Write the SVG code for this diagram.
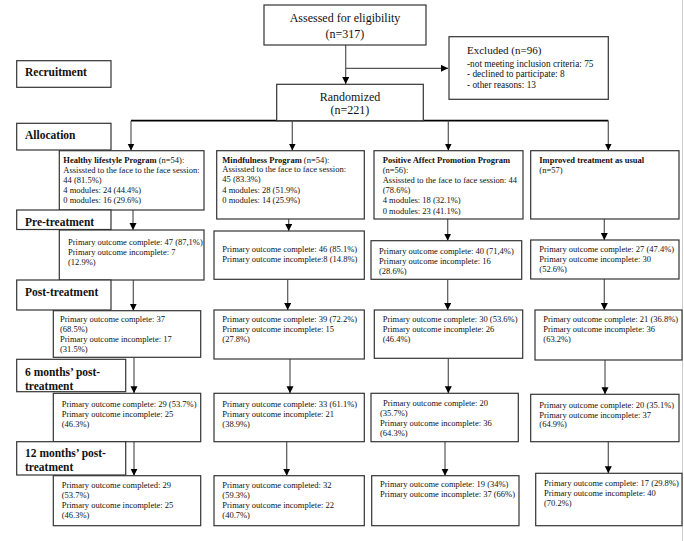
<svg xmlns="http://www.w3.org/2000/svg" width="684" height="541" viewBox="0 0 684 541">
<style>
.bx{fill:#fff;stroke:#333;stroke-width:1.2}
.lb{fill:#fff;stroke:#333;stroke-width:1.2}
.t{font-family:"Liberation Serif","Times New Roman",serif;font-size:8.5px;fill:#111}
.b{font-weight:bold}
.lt{font-family:"Liberation Serif","Times New Roman",serif;font-size:11.5px;font-weight:bold;fill:#111}
.big{font-family:"Liberation Serif","Times New Roman",serif;font-size:12px;fill:#111}
.ex{font-family:"Liberation Serif","Times New Roman",serif;font-size:9.3px;fill:#111}
.c{fill:none;stroke:#555;stroke-width:1.2}
</style>
<defs>
<marker id="ah" markerUnits="userSpaceOnUse" markerWidth="8" markerHeight="8" refX="7" refY="3.5" orient="auto">
<path d="M0,0 L7,3.5 L0,7 z" fill="#000"/>
</marker>
</defs>
<rect width="684" height="541" fill="#fff"/>
<line x1="682.5" y1="0" x2="682.5" y2="541" stroke="#ccc" stroke-width="1"/>

<g id="connectors">
<line class="c" x1="345.7" y1="45" x2="345.7" y2="84"  marker-end="url(#ah)"/>
<line class="c" x1="345.7" y1="68.3" x2="448" y2="68.3" marker-end="url(#ah)"/>
<line x1="131" y1="120.7" x2="608.3" y2="120.7" stroke="#000" stroke-width="1.8"/>
<line class="c" x1="131" y1="120.7" x2="131" y2="150.5" marker-end="url(#ah)"/>
<line class="c" x1="292.3" y1="120.7" x2="292.3" y2="150.5" marker-end="url(#ah)"/>
<line class="c" x1="448.3" y1="120.7" x2="448.3" y2="150.5" marker-end="url(#ah)"/>
<line class="c" x1="608.3" y1="120.7" x2="608.3" y2="150.5" marker-end="url(#ah)"/>
<line class="c" x1="133" y1="210" x2="133" y2="230" marker-end="url(#ah)"/>
<line class="c" x1="288.7" y1="219" x2="288.7" y2="231" marker-end="url(#ah)"/>
<line class="c" x1="447.7" y1="219" x2="447.7" y2="240.7" marker-end="url(#ah)"/>
<line class="c" x1="604.3" y1="219" x2="604.3" y2="240" marker-end="url(#ah)"/>
<line class="c" x1="133.3" y1="280" x2="133.3" y2="310.7" marker-end="url(#ah)"/>
<line class="c" x1="287.7" y1="279.3" x2="287.7" y2="310" marker-end="url(#ah)"/>
<line class="c" x1="447.7" y1="279.3" x2="447.7" y2="310" marker-end="url(#ah)"/>
<line class="c" x1="604.3" y1="279" x2="604.3" y2="310" marker-end="url(#ah)"/>
<line class="c" x1="134" y1="357.3" x2="134" y2="393.3" marker-end="url(#ah)"/>
<line class="c" x1="290" y1="359" x2="290" y2="393.3" marker-end="url(#ah)"/>
<line class="c" x1="448.3" y1="358.3" x2="448.3" y2="393.3" marker-end="url(#ah)"/>
<line class="c" x1="605" y1="360" x2="605" y2="394.3" marker-end="url(#ah)"/>
<line class="c" x1="134" y1="441.7" x2="134" y2="475.7" marker-end="url(#ah)"/>
<line class="c" x1="286.7" y1="441.7" x2="286.7" y2="475.7" marker-end="url(#ah)"/>
<line class="c" x1="445" y1="441.7" x2="445" y2="475.7" marker-end="url(#ah)"/>
<line class="c" x1="608.3" y1="441.7" x2="608.3" y2="473.3" marker-end="url(#ah)"/>
</g>

<g id="assessed">
<rect class="bx" x="264" y="5" width="162" height="40"/>
<text class="big" x="345" y="22" text-anchor="middle">Assessed for eligibility</text>
<text class="big" x="345" y="37.5" text-anchor="middle">(n=317)</text>
</g>
<g id="excluded">
<rect class="bx" x="449" y="36.7" width="159.3" height="62.6"/>
<text x="467" y="54" style="font-family:'Liberation Serif',serif;font-size:11px;fill:#111">Excluded (n=96)</text>
<text class="ex" x="467" y="66.5">-not meeting inclusion criteria: 75</text>
<text class="ex" x="467" y="77.3">- declined to participate: 8</text>
<text class="ex" x="467" y="88.2">- other reasons: 13</text>
</g>
<g id="randomized">
<rect class="bx" x="276.7" y="84.3" width="146.6" height="36.4"/>
<text class="big" x="350" y="100.8" text-anchor="middle">Randomized</text>
<text class="big" x="350" y="114.3" text-anchor="middle">(n=221)</text>
</g>

<g id="lbl-recruitment"><rect class="lb" x="16.7" y="60.7" width="94.3" height="26.6"/><text class="lt" x="25" y="76">Recruitment</text></g>
<g id="lbl-allocation"><rect class="lb" x="16.7" y="123.3" width="94.3" height="26.7"/><text class="lt" x="25" y="139">Allocation</text></g>

<g id="healthy-alloc">
<rect class="bx" x="59.3" y="150.7" width="144.7" height="59.3"/>
<text class="t" x="63.3" y="162.5"><tspan class="b">Healthy lifestyle Program</tspan> (n=54):</text>
<text class="t" x="63.3" y="172.7">Assissted to the face to the face session:</text>
<text class="t" x="63.3" y="182.9">44 (81.5%)</text>
<text class="t" x="63.3" y="193.1">4 modules: 24 (44.4%)</text>
<text class="t" x="63.3" y="203.3">0 modules: 16 (29.6%)</text>
</g>
<g id="mind-alloc">
<rect class="bx" x="216.7" y="150.7" width="147.6" height="68.3"/>
<text class="t" x="222.3" y="162.5"><tspan class="b">Mindfulness Program</tspan> (n=54):</text>
<text class="t" x="222.3" y="172.3">Assissted to the  face to face session:</text>
<text class="t" x="222.3" y="181.6">45 (83.3%)</text>
<text class="t" x="222.3" y="193">4 modules: 28 (51.9%)</text>
<text class="t" x="222.3" y="203.2">0 modules: 14 (25.9%)</text>
</g>
<g id="pos-alloc">
<rect class="bx" x="374" y="150.7" width="149" height="68.3"/>
<text class="t b" x="382.7" y="162.5">Positive Affect Promotion Program</text>
<text class="t" x="382.7" y="172.7">(n=56):</text>
<text class="t" x="382.7" y="182.9">Assissted to the face to face session: 44</text>
<text class="t" x="382.7" y="193.1">(78.6%)</text>
<text class="t" x="382.7" y="203.3">4 modules: 18 (32.1%)</text>
<text class="t" x="382.7" y="213.5">0 modules: 23 (41.1%)</text>
</g>
<g id="itau-alloc">
<rect class="bx" x="530.7" y="150.7" width="148.3" height="68.3"/>
<text class="t b" x="539.3" y="162.5">Improved treatment as usual</text>
<text class="t" x="539.3" y="172.7">(n=57)</text>
</g>

<g id="lbl-pre"><rect class="lb" x="16.7" y="210" width="94.3" height="19.5"/><text class="lt" x="25" y="225.5">Pre-treatment</text></g>

<g id="healthy-pre">
<rect class="bx" x="59.3" y="230" width="144.7" height="50"/>
<text class="t" x="68" y="244.7">Primary outcome complete: 47 (87,1%)</text>
<text class="t" x="68" y="254.7">Primary outcome incomplete: 7</text>
<text class="t" x="68" y="264.5">(12.9%)</text>
</g>
<g id="mind-pre">
<rect class="bx" x="214" y="231" width="150.3" height="48.3"/>
<text class="t" x="222.3" y="251.5">Primary outcome complete: 46 (85.1%)</text>
<text class="t" x="222.3" y="261.5">Primary outcome incomplete:8 (14.8%)</text>
</g>
<g id="pos-pre">
<rect class="bx" x="371" y="240.7" width="150.7" height="38.6"/>
<text class="t" x="379" y="254">Primary outcome complete: 40 (71,4%)</text>
<text class="t" x="379" y="264">Primary outcome incomplete: 16</text>
<text class="t" x="379" y="274">(28.6%)</text>
</g>
<g id="itau-pre">
<rect class="bx" x="530.7" y="240" width="148.3" height="39"/>
<text class="t" x="539.3" y="252">Primary outcome complete: 27 (47.4%)</text>
<text class="t" x="539.3" y="262">Primary outcome incomplete: 30</text>
<text class="t" x="539.3" y="272">(52.6%)</text>
</g>

<g id="lbl-post"><rect class="lb" x="16.7" y="280" width="94.3" height="30"/><text class="lt" x="25" y="295.7">Post-treatment</text></g>

<g id="healthy-post">
<rect class="bx" x="53.3" y="310.7" width="147.4" height="46.6"/>
<text class="t" x="60" y="322.3">Primary outcome complete: 37</text>
<text class="t" x="60" y="332.2">(68.5%)</text>
<text class="t" x="60" y="342.3">Primary outcome incomplete: 17</text>
<text class="t" x="60" y="352">(31.5%)</text>
</g>
<g id="mind-post">
<rect class="bx" x="214" y="310" width="150.3" height="49"/>
<text class="t" x="222.3" y="322.3">Primary outcome complete: 39 (72.2%)</text>
<text class="t" x="222.3" y="332.2">Primary outcome incomplete: 15</text>
<text class="t" x="222.3" y="342.2">(27.8%)</text>
</g>
<g id="pos-post">
<rect class="bx" x="374.3" y="310" width="148.4" height="48.3"/>
<text class="t" x="382.7" y="322.3">Primary outcome complete: 30 (53.6%)</text>
<text class="t" x="382.7" y="332.3">Primary outcome incomplete: 26</text>
<text class="t" x="382.7" y="342.3">(46.4%)</text>
</g>
<g id="itau-post">
<rect class="bx" x="535" y="310" width="147" height="50"/>
<text class="t" x="543.3" y="322.3">Primary outcome complete: 21 (36.8%)</text>
<text class="t" x="543.3" y="332.3">Primary outcome incomplete: 36</text>
<text class="t" x="543.3" y="342.3">(63.2%)</text>
</g>

<g id="lbl-6m"><rect class="lb" x="16.7" y="359.3" width="109" height="32.4"/><text class="lt" x="25" y="375.5">6 months’ post-</text><text class="lt" x="25" y="390">treatment</text></g>

<g id="healthy-6m">
<rect class="bx" x="53.3" y="393.3" width="147.4" height="48.4"/>
<text class="t" x="61.7" y="407">Primary outcome complete: 29 (53.7%)</text>
<text class="t" x="61.7" y="417">Primary outcome incomplete: 25</text>
<text class="t" x="61.7" y="427">(46.3%)</text>
</g>
<g id="mind-6m">
<rect class="bx" x="214" y="393.3" width="150.3" height="48.4"/>
<text class="t" x="222.3" y="406.5">Primary outcome complete: 33 (61.1%)</text>
<text class="t" x="222.3" y="416.5">Primary outcome incomplete: 21</text>
<text class="t" x="222.3" y="426.5">(38.9%)</text>
</g>
<g id="pos-6m">
<rect class="bx" x="371" y="393.3" width="147.3" height="48.4"/>
<text class="t" x="383" y="405.8">Primary outcome complete: 20</text>
<text class="t" x="380" y="416">(35.7%)</text>
<text class="t" x="380" y="426.3">Primary outcome incomplete: 36</text>
<text class="t" x="380" y="436.3">(64.3%)</text>
</g>
<g id="itau-6m">
<rect class="bx" x="530.7" y="394.3" width="148.3" height="47.4"/>
<text class="t" x="539.3" y="408">Primary outcome complete: 20 (35.1%)</text>
<text class="t" x="539.3" y="417.5">Primary outcome incomplete: 37</text>
<text class="t" x="539.3" y="427.3">(64.9%)</text>
</g>

<g id="lbl-12m"><rect class="lb" x="16.7" y="441.7" width="109" height="33.3"/><text class="lt" x="25" y="457.3">12 months’ post-</text><text class="lt" x="25" y="470.7">treatment</text></g>

<g id="healthy-12m">
<rect class="bx" x="53.3" y="475.7" width="147.4" height="50"/>
<text class="t" x="61.7" y="488">Primary outcome completed: 29</text>
<text class="t" x="61.7" y="498">(53.7%)</text>
<text class="t" x="61.7" y="508">Primary outcome incomplete: 25</text>
<text class="t" x="61.7" y="518">(46.3%)</text>
</g>
<g id="mind-12m">
<rect class="bx" x="214" y="475.7" width="150.3" height="50"/>
<text class="t" x="222.3" y="488">Primary outcome completed: 32</text>
<text class="t" x="222.3" y="498">(59.3%)</text>
<text class="t" x="222.3" y="508">Primary outcome incomplete: 22</text>
<text class="t" x="222.3" y="518">(40.7%)</text>
</g>
<g id="pos-12m">
<rect class="bx" x="371.7" y="475.7" width="147.3" height="50"/>
<text class="t" x="380" y="487">Primary outcome complete: 19 (34%)</text>
<text class="t" x="380" y="497">Primary outcome incomplete: 37 (66%)</text>
</g>
<g id="itau-12m">
<rect class="bx" x="535.7" y="473.3" width="146.3" height="52.4"/>
<text class="t" x="544" y="485.7">Primary outcome complete: 17 (29.8%)</text>
<text class="t" x="544" y="495.7">Primary outcome incomplete: 40</text>
<text class="t" x="544" y="506">(70.2%)</text>
</g>
</svg>
